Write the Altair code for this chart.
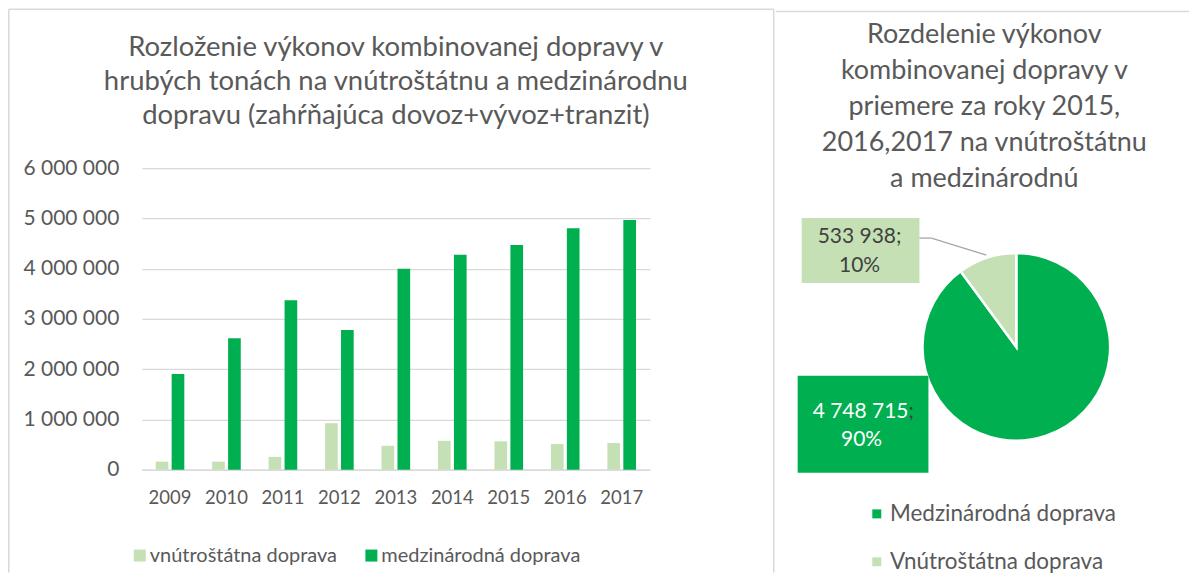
import altair as alt
import pandas as pd

FONT = "Lato"
TXT = "#595959"
GRID = "#d9d9d9"

years = ["2009", "2010", "2011", "2012", "2013", "2014", "2015", "2016", "2017"]
domestic = [160000, 160000, 255000, 925000, 475000, 575000, 565000, 510000, 530000]
international = [1905000, 2615000, 3370000, 2780000, 4000000, 4280000, 4470000, 4805000, 4970000]
bar_series = ["vnútroštátna doprava", "medzinárodná doprava"]
bar_colors = ["#C5E0B4", "#00B050"]
y_ticks = [0, 1000000, 2000000, 3000000, 4000000, 5000000, 6000000]

pie_categories = ["Medzinárodná doprava", "Vnútroštátna doprava"]
pie_values = [4748715, 533938]
pie_colors = ["#00B050", "#C5E0B4"]

left_title = ["Rozloženie výkonov kombinovanej dopravy v",
              "hrubých tonách na vnútroštátnu a medzinárodnu",
              "dopravu (zahŕňajúca dovoz+vývoz+tranzit)"]
right_title = ["Rozdelenie výkonov", "kombinovanej dopravy v",
               "priemere za roky 2015,", "2016,2017 na vnútroštátnu",
               "a medzinárodnú"]

# ---------- data tables ----------
rows = []
for i, y in enumerate(years):
    rows.append({"year": y, "series": bar_series[0], "value": domestic[i]})
    rows.append({"year": y, "series": bar_series[1], "value": international[i]})
bar_df = pd.DataFrame(rows)

pie_df = pd.DataFrame({"category": pie_categories, "value": pie_values,
                       "order": list(range(len(pie_values)))})
total = sum(pie_values)


def fmt(v):
    return f"{v:,}".replace(",", " ")


pct = [f"{round(v / total * 100)}%" for v in pie_values]
one = pd.DataFrame({"a": [0]})

# ---------- left panel ----------
LW, LH = 509, 302
bars = alt.Chart(bar_df).mark_bar().encode(
    x=alt.X("year:N", sort=years,
            scale=alt.Scale(paddingInner=0.493, paddingOuter=0.2465),
            axis=alt.Axis(title=None, labelAngle=0, ticks=False, tickSize=0,
                          domainColor=GRID, domainWidth=1.3,
                          labelFontSize=18.5, labelColor=TXT, labelFont=FONT,
                          labelPadding=19)),
    xOffset=alt.XOffset("series:N", sort=bar_series,
                        scale=alt.Scale(paddingInner=0.206, paddingOuter=0)),
    y=alt.Y("value:Q", scale=alt.Scale(domain=[0, 6000000], nice=False),
            axis=alt.Axis(title=None, values=y_ticks,
                          labelExpr="replace(format(datum.value, ','), /,/g, ' ')",
                          grid=True, gridColor=GRID, gridWidth=1.3,
                          domain=False, ticks=False, tickSize=0,
                          labelPadding=23, labelFontSize=21, labelColor=TXT,
                          labelFont=FONT)),
    color=alt.Color("series:N", sort=bar_series,
                    scale=alt.Scale(domain=bar_series, range=bar_colors),
                    legend=alt.Legend(title=None, orient="none", legendX=-12,
                                      legendY=378, direction="horizontal",
                                      symbolType="square", symbolSize=144,
                                      symbolStrokeWidth=0, labelFontSize=20,
                                      labelColor=TXT, labelFont=FONT,
                                      labelOffset=0, columnPadding=24,
                                      labelLimit=500, padding=0)),
)

left_bounds = alt.Chart(one).mark_rect(opacity=0).encode(
    x=alt.value(-134), x2=alt.value(634), y=alt.value(-160), y2=alt.value(405))
left_border = alt.Chart(pd.DataFrame({
    "x": [-133.2, -133.2, 633.0], "x2": [-133.2, 633.0, 633.0],
    "y": [-159.2, -159.2, -159.2], "y2": [405, -159.2, 405]})).mark_rule(
    color=GRID, strokeWidth=1.5).encode(
    x=alt.X("x:Q", scale=None), x2="x2:Q",
    y=alt.Y("y:Q", scale=None), y2="y2:Q")
left_title_mark = alt.Chart(one).mark_text(
    align="center", baseline="middle", fontSize=27.5, font=FONT, color=TXT,
    lineHeight=34).encode(x=alt.value(254.5), y=alt.value(-120),
                          text=alt.value(left_title))

left = alt.layer(left_bounds, left_border, bars, left_title_mark).properties(
    width=LW, height=LH)

# ---------- right panel (plot area origin aligned with the left one) ----------
RW, RH = 346, 358
pie = alt.Chart(pie_df).mark_arc(outerRadius=94, stroke="white",
                                 strokeWidth=2.5).encode(
    theta=alt.Theta("value:Q", stack=True),
    order=alt.Order("order:Q"),
    color=alt.Color("category:N", sort=pie_categories,
                    scale=alt.Scale(domain=pie_categories, range=pie_colors),
                    legend=alt.Legend(title=None, orient="none", legendX=22,
                                      legendY=335, direction="vertical",
                                      symbolType="square", symbolSize=81,
                                      symbolStrokeWidth=0, labelFontSize=22.5,
                                      labelColor=TXT, labelFont=FONT,
                                      labelOffset=2, rowPadding=25,
                                      labelLimit=500, padding=0)),
)

right_bounds = alt.Chart(one).mark_rect(opacity=0).encode(
    x=alt.value(-68), x2=alt.value(346), y=alt.value(-160), y2=alt.value(405))
right_border = alt.Chart(one).mark_rule(color=GRID, strokeWidth=1.5).encode(
    x=alt.value(-68), x2=alt.value(346), y=alt.value(-157), y2=alt.value(-157))
right_title_mark = alt.Chart(one).mark_text(
    align="center", baseline="middle", fontSize=27, font=FONT, color=TXT,
    lineHeight=36).encode(x=alt.value(141), y=alt.value(-133),
                          text=alt.value(right_title))

box_light = alt.Chart(one).mark_rect(color=pie_colors[1]).encode(
    x=alt.value(-42), x2=alt.value(76), y=alt.value(50), y2=alt.value(115))
box_dark = alt.Chart(one).mark_rect(color=pie_colors[0]).encode(
    x=alt.value(-46), x2=alt.value(85), y=alt.value(208), y2=alt.value(305))
leader1 = alt.Chart(one).mark_rule(color="#a6a6a6", strokeWidth=1.3).encode(
    x=alt.value(76), x2=alt.value(88), y=alt.value(70), y2=alt.value(70))
leader2 = alt.Chart(one).mark_rule(color="#a6a6a6", strokeWidth=1.3).encode(
    x=alt.value(88), x2=alt.value(143), y=alt.value(70), y2=alt.value(87))

lbl_light = alt.Chart(one).mark_text(
    align="center", baseline="middle", fontSize=21, font=FONT,
    color="#404040", lineHeight=29).encode(
    x=alt.value(16), y=alt.value(69),
    text=alt.value([fmt(pie_values[1]) + ";", pct[1]]))
lbl_dark_num = alt.Chart(one).mark_text(
    align="right", baseline="middle", fontSize=21, font=FONT,
    color="white").encode(x=alt.value(65), y=alt.value(244),
                          text=alt.value(fmt(pie_values[0])))
lbl_dark_semi = alt.Chart(one).mark_text(
    align="left", baseline="middle", fontSize=21, font=FONT,
    color="#404040").encode(x=alt.value(65), y=alt.value(244),
                            text=alt.value(";"))
lbl_dark_pct = alt.Chart(one).mark_text(
    align="center", baseline="middle", fontSize=21, font=FONT,
    color="white").encode(x=alt.value(18), y=alt.value(272),
                          text=alt.value(pct[0]))

right = alt.layer(right_bounds, right_border, right_title_mark, pie,
                  box_light, box_dark, leader1, leader2, lbl_light,
                  lbl_dark_num, lbl_dark_semi, lbl_dark_pct).properties(
    width=RW, height=RH)

chart = alt.hconcat(left, right, spacing=0).resolve_scale(
    color="independent").properties(padding=0, background="white"
).configure_view(stroke=None)

chart.save("out.html", embed_options={"renderer": "svg", "actions": False})
